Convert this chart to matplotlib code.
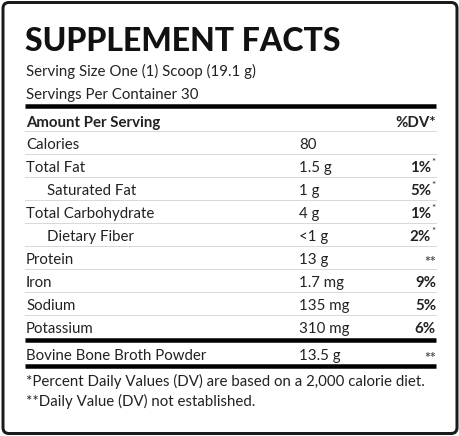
import matplotlib.pyplot as plt
from matplotlib.patches import FancyBboxPatch

# label data
title = "SUPPLEMENT FACTS"
serving_size = "Serving Size One (1) Scoop (19.1 g)"
servings_per = "Servings Per Container 30"

nutrients = ["Calories", "Total Fat", "Saturated Fat", "Total Carbohydrate",
             "Dietary Fiber", "Protein", "Iron", "Sodium", "Potassium"]
amounts = ["80", "1.5 g", "1 g", "4 g", "<1 g", "13 g", "1.7 mg", "135 mg", "310 mg"]
dv = ["", "1%", "5%", "1%", "2%", "**", "9%", "5%", "6%"]
dv_star = [False, True, True, True, True, False, False, False, False]
indent = [False, False, True, False, True, False, False, False, False]

other_name = "Bovine Bone Broth Powder"
other_amount = "13.5 g"
other_dv = "**"

footnotes = ["*Percent Daily Values (DV) are based on a 2,000 calorie diet.",
             "**Daily Value (DV) not established."]

W, H = 460, 436
fig = plt.figure(figsize=(W / 100, H / 100), dpi=100)
ax = fig.add_axes([0, 0, 1, 1])
ax.set_xlim(0, W)
ax.set_ylim(H, 0)
ax.axis("off")

FONT = "Lato"
TXT = "#222222"
fs = 10.8  # row font size (pt)

def px(v):
    # pixel -> points for line widths
    return v * 72 / 100

# outer border
ax.add_patch(FancyBboxPatch((3, 2.5), W - 6, H - 5, boxstyle="round,pad=0,rounding_size=6",
                            fill=False, ec="#1a1a1a", lw=px(3)))

L, R, C2 = 26, 436, 299

ax.text(L - 1, 51, title, fontsize=23, fontweight="black", family=FONT,
        color="#111111", va="baseline")
ax.text(L, 76, serving_size, fontsize=fs, family=FONT, color=TXT, va="baseline")
ax.text(L, 99, servings_per, fontsize=fs, family=FONT, color=TXT, va="baseline")

ax.plot([L - 1, R], [106, 106], color="black", lw=px(4.5), solid_capstyle="butt")

ax.text(L, 127, "Amount Per Serving", fontsize=fs, fontweight="bold", family=FONT,
        color=TXT, va="baseline")
ax.text(R, 127, "%DV*", fontsize=fs, fontweight="bold", family=FONT,
        color=TXT, va="baseline", ha="right")

row_h = 23
top = 131
for i, name in enumerate(nutrients):
    y0 = top + i * row_h
    ax.plot([L - 1, R], [y0, y0], color="#d9d9d9", lw=px(1))
    base = y0 + row_h - 5
    x = L + 21 if indent[i] else L
    ax.text(x, base, name, fontsize=fs, family=FONT, color=TXT, va="baseline")
    ax.text(C2, base, amounts[i], fontsize=fs, family=FONT, color=TXT, va="baseline")
    if dv[i] == "**":
        ax.text(R, base + 2, dv[i], fontsize=10, fontweight="bold", family=FONT,
                color="#555555", va="baseline", ha="right")
    elif dv[i]:
        xr = R - 5 if dv_star[i] else R
        ax.text(xr, base, dv[i], fontsize=fs, fontweight="bold", family=FONT,
                color=TXT, va="baseline", ha="right")
        if dv_star[i]:
            ax.text(R - 4.5, base - 7, "*", fontsize=7, family=FONT, color=TXT,
                    va="baseline", ha="left")

y_thick = top + len(nutrients) * row_h + 2
ax.plot([L - 1, R], [y_thick, y_thick], color="black", lw=px(4.5), solid_capstyle="butt")

base = y_thick + 20
ax.text(L, base, other_name, fontsize=fs, family=FONT, color=TXT, va="baseline")
ax.text(C2, base, other_amount, fontsize=fs, family=FONT, color=TXT, va="baseline")
ax.text(R, base + 2, other_dv, fontsize=10, fontweight="bold", family=FONT,
        color="#555555", va="baseline", ha="right")

y_thick2 = y_thick + 26
ax.plot([L - 1, R], [y_thick2, y_thick2], color="black", lw=px(4.5), solid_capstyle="butt")

ax.text(L, 386, footnotes[0], fontsize=fs, family=FONT, color=TXT, va="baseline")
ax.text(L, 406, footnotes[1], fontsize=fs, family=FONT, color=TXT, va="baseline")

fig.savefig("out.png", dpi=100, facecolor="white")
